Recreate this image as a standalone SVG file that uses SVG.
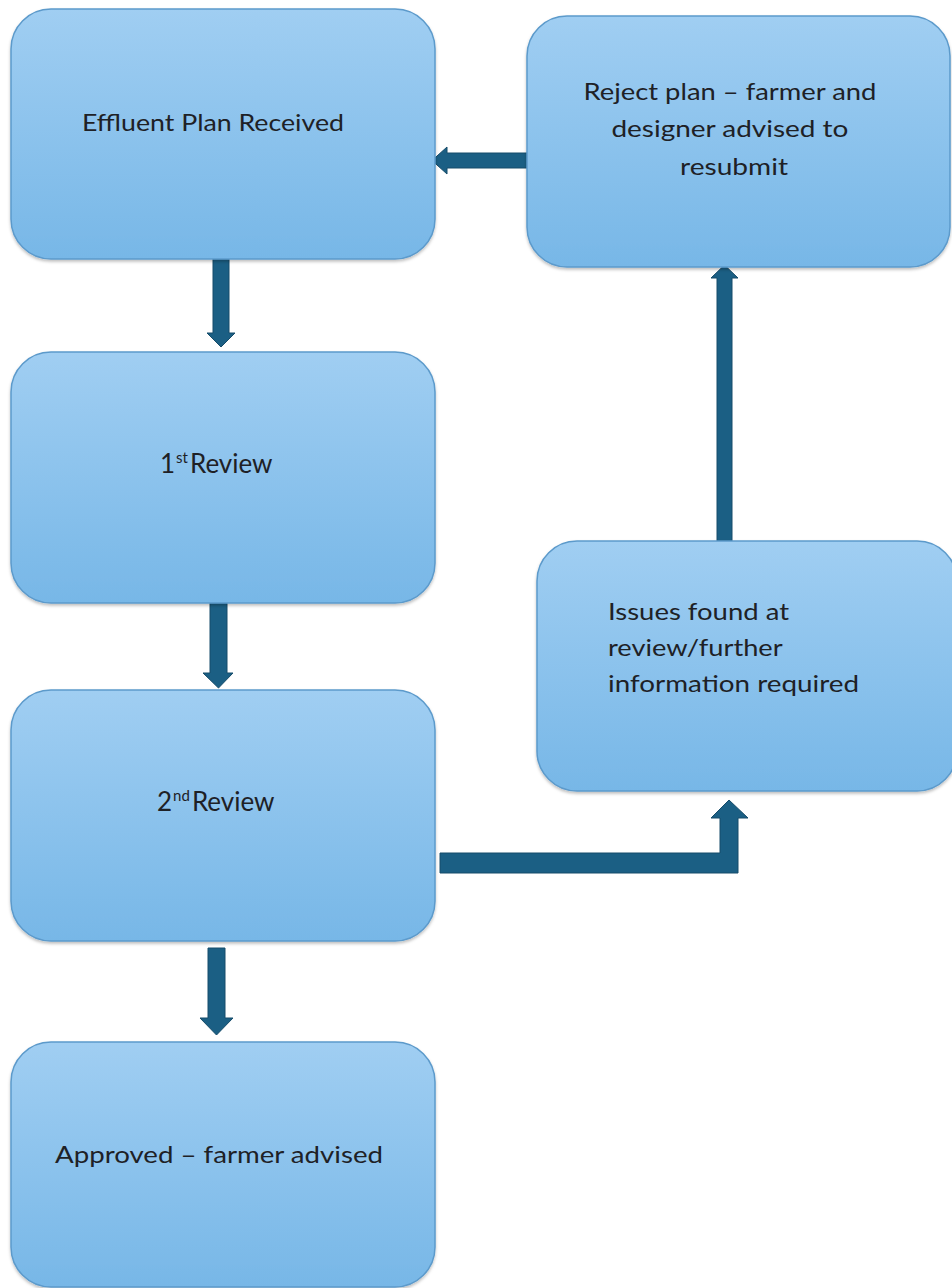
<svg xmlns="http://www.w3.org/2000/svg" width="952" height="1288" viewBox="0 0 952 1288">
<defs>
<linearGradient id="boxgrad" x1="0" y1="0" x2="0" y2="1">
<stop offset="0" stop-color="#A0CEF2"/>
<stop offset="1" stop-color="#77B7E7"/>
</linearGradient>
<filter id="sh" x="-5%" y="-5%" width="110%" height="115%">
<feDropShadow dx="0" dy="2" stdDeviation="1.5" flood-color="#000" flood-opacity="0.25"/>
</filter>
</defs>
<style>
.box{fill:url(#boxgrad);stroke:#5C9ACB;stroke-width:1.5;filter:url(#sh)}
.lbl{font-family:Lato,"Open Sans","Liberation Sans",sans-serif;font-size:24px;fill:#1E2126}
.rev{font-size:26px}
.arr{fill:#1B5F84;stroke:#164C6A;stroke-width:1}
</style>
<rect width="952" height="1288" fill="#FFFFFF"/>
<g id="connectors">
<polygon class="arr" points="213,259 229,259 229,333 235,333 221,347 207,333 213,333"/>
<polygon class="arr" points="210,603 227,603 227,673 233,673 218.5,688 203,673 210,673"/>
<polygon class="arr" points="208,948 225,948 225,1018 233,1018 216.5,1035 200,1018 208,1018"/>
<polygon class="arr" points="533,153 533,168 447,168 447,174 432,160.5 447,147 447,153"/>
<polygon class="arr" points="717,541 732,541 732,278 738,278 724.5,265 711,278 717,278"/>
<polygon class="arr" points="440,853 720,853 720,818 711,818 729,800 748,818 738,818 738,873 440,873"/>
</g>
<g id="n_received">
<rect class="box" x="11" y="9" width="424" height="250" rx="40"/>
<text class="lbl" x="82" y="131" textLength="262" lengthAdjust="spacingAndGlyphs">Effluent Plan Received</text>
</g>
<g id="n_reject">
<rect class="box" x="527" y="16" width="423" height="251" rx="40"/>
<text class="lbl" text-anchor="middle">
<tspan x="733" y="100" textLength="293" lengthAdjust="spacingAndGlyphs">Reject plan – farmer and</tspan>
<tspan x="733" y="137" textLength="237" lengthAdjust="spacingAndGlyphs">designer advised to</tspan>
<tspan x="734" y="175" textLength="108" lengthAdjust="spacingAndGlyphs">resubmit</tspan>
</text>
</g>
<g id="n_first">
<rect class="box" x="11" y="352" width="424" height="251" rx="40"/>
<text class="lbl rev" x="160" y="473">1<tspan font-size="15" dy="-10" dx="1">st</tspan><tspan dy="10" dx="2">Review</tspan></text>
</g>
<g id="n_issues">
<rect class="box" x="537" y="541" width="420" height="250" rx="40"/>
<text class="lbl">
<tspan x="608" y="620" textLength="181" lengthAdjust="spacingAndGlyphs">Issues found at</tspan>
<tspan x="608" y="656" textLength="174" lengthAdjust="spacingAndGlyphs">review/further</tspan>
<tspan x="608" y="692" textLength="251" lengthAdjust="spacingAndGlyphs">information  required</tspan>
</text>
</g>
<g id="n_second">
<rect class="box" x="11" y="690" width="424" height="251" rx="40"/>
<text class="lbl rev" x="157" y="811">2<tspan font-size="15" dy="-10" dx="1">nd</tspan><tspan dy="10" dx="2">Review</tspan></text>
</g>
<g id="n_approved">
<rect class="box" x="11" y="1042" width="424" height="245" rx="40"/>
<text class="lbl" x="55" y="1163" textLength="328" lengthAdjust="spacingAndGlyphs">Approved – farmer advised</text>
</g>
</svg>
